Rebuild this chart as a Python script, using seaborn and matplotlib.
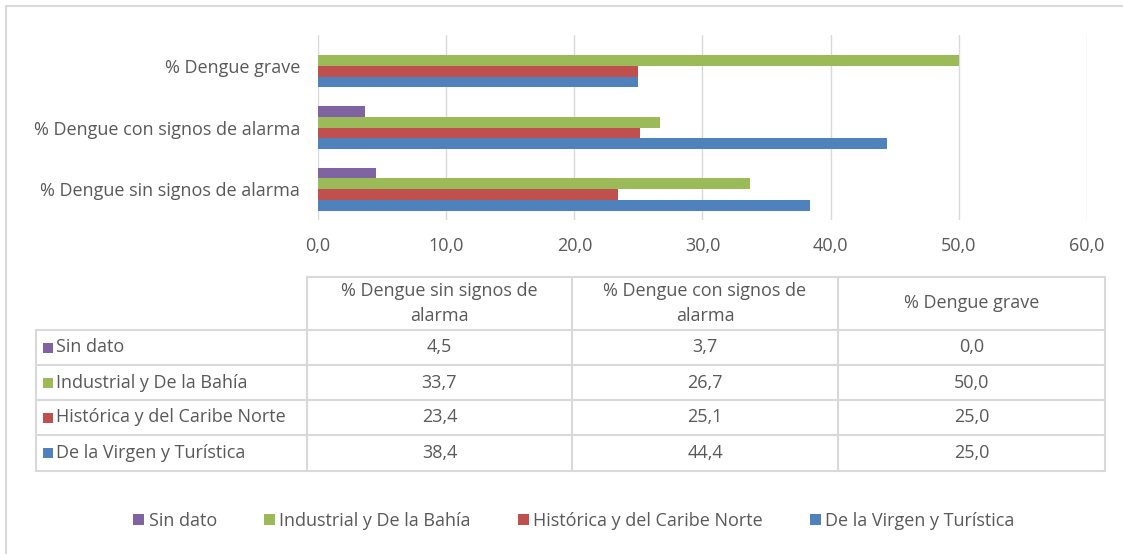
import matplotlib
matplotlib.use("Agg")
import matplotlib.pyplot as plt
from matplotlib.lines import Line2D
from matplotlib.patches import Rectangle
from matplotlib.ticker import FuncFormatter
import pandas as pd
import seaborn as sns

# datos
categorias = ["% Dengue sin signos de alarma",
              "% Dengue con signos de alarma",
              "% Dengue grave"]
encabezados = ["% Dengue sin signos de\nalarma",
               "% Dengue con signos de\nalarma",
               "% Dengue grave"]
series = ["Sin dato", "Industrial y De la Bahía",
          "Histórica y del Caribe Norte", "De la Virgen y Turística"]
sin_dato = [4.5, 3.7, 0.0]
industrial = [33.7, 26.7, 50.0]
historica = [23.4, 25.1, 25.0]
virgen = [38.4, 44.4, 25.0]
colores = ["#8064A2", "#9BBB59", "#C0504D", "#4F81BD"]

valores = [sin_dato, industrial, historica, virgen]
df = pd.DataFrame([
    {"categoria": c, "serie": s, "valor": v}
    for s, vals in zip(series, valores)
    for c, v in zip(categorias, vals)
])

W, H = 1123, 554
GRIS = "#595959"
LINEA = "#D9D9D9"
FS = 13

sns.set_theme(style="white")
plt.rcParams["font.family"] = ["Open Sans", "DejaVu Sans"]

fig = plt.figure(figsize=(W / 100, H / 100), dpi=100)


def fx(px):
    return px / W


def fy(py):
    return 1 - py / H


def coma(v):
    return f"{v:.1f}".replace(".", ",")


ax = fig.add_axes([fx(318), fy(220), fx(1087) - fx(318), fy(35) - fy(220)])
sns.barplot(data=df, y="categoria", x="valor", hue="serie",
            order=categorias[::-1], hue_order=series,
            palette=colores, orient="h", width=0.7, ax=ax,
            legend=True, saturation=1, edgecolor="none")
ax.set_xlim(0, 60)
ax.set_xticks(range(0, 61, 10))
ax.xaxis.set_major_formatter(FuncFormatter(lambda v, p: coma(v)))
ax.grid(axis="x", color=LINEA, linewidth=1)
ax.set_axisbelow(True)
for s in ax.spines.values():
    s.set_visible(False)
ax.set_xlabel("")
ax.set_ylabel("")
ax.tick_params(axis="x", colors=GRIS, labelsize=FS, pad=12, length=0)
ax.tick_params(axis="y", colors=GRIS, labelsize=FS, pad=13, length=0)

handles, labels = ax.get_legend_handles_labels()
ax.get_legend().remove()
fig.legend(handles, labels, loc="center", bbox_to_anchor=(fx(574), fy(521)),
           ncol=4, frameon=False, fontsize=FS, labelcolor=GRIS,
           handlelength=0.6, handleheight=0.6, handletextpad=0.25,
           columnspacing=2.6)

# tabla de datos
col_x = [36, 307, 572, 838, 1105]
row_y = [277, 330, 365, 400, 435, 471]
lk = dict(color=LINEA, linewidth=1.5, transform=fig.transFigure)
fig.add_artist(Line2D([fx(307), fx(1105)], [fy(row_y[0])] * 2, **lk))
for y in row_y[1:]:
    fig.add_artist(Line2D([fx(36), fx(1105)], [fy(y)] * 2, **lk))
fig.add_artist(Line2D([fx(36)] * 2, [fy(row_y[1]), fy(row_y[-1])], **lk))
for x in col_x[1:]:
    fig.add_artist(Line2D([fx(x)] * 2, [fy(row_y[0]), fy(row_y[-1])], **lk))

for j, enc in enumerate(encabezados):
    xc = (col_x[j + 1] + col_x[j + 2]) / 2
    fig.text(fx(xc), fy((row_y[0] + row_y[1]) / 2), enc, ha="center",
             va="center", fontsize=FS, color=GRIS, linespacing=1.5)

for i, (s, vals, c) in enumerate(zip(series, valores, colores)):
    yc = (row_y[i + 1] + row_y[i + 2]) / 2
    fig.add_artist(Rectangle((fx(43), fy(yc + 5)), fx(10), fy(0) - fy(10),
                             facecolor=c, edgecolor="none",
                             transform=fig.transFigure))
    fig.text(fx(56), fy(yc), s, ha="left", va="center", fontsize=FS, color=GRIS)
    for j, v in enumerate(vals):
        xc = (col_x[j + 1] + col_x[j + 2]) / 2
        fig.text(fx(xc), fy(yc), coma(v), ha="center",
                 va="center", fontsize=FS, color=GRIS)

# marco exterior
fig.add_artist(Line2D([fx(6), fx(1123)], [fy(5.5)] * 2, color=LINEA,
                      linewidth=1.5, transform=fig.transFigure))
fig.add_artist(Line2D([fx(6)] * 2, [fy(5.5), fy(554)], color=LINEA,
                      linewidth=1.5, transform=fig.transFigure))

fig.savefig("out.png", dpi=100)
